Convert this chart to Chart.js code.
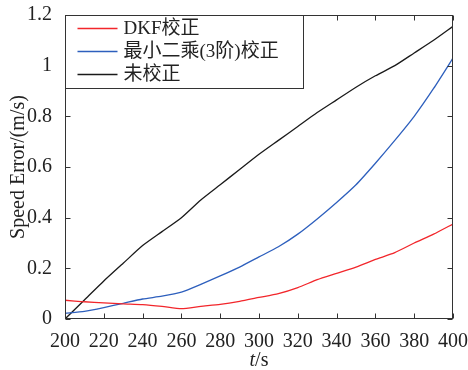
<!DOCTYPE html>
<html>
<head>
<meta charset="utf-8">
<script src="https://cdn.jsdelivr.net/npm/chart.js@4.4.1/dist/chart.umd.min.js"></script>
<style>
  html, body { margin: 0; padding: 0; background: #fff; }
</style>
</head>
<body>
<canvas id="speed" width="468" height="370"></canvas>
<script>
'use strict';

/*-- data --*/
var times = [200, 210, 220, 230, 240, 250, 260, 270, 280, 290, 300, 310, 320, 330, 340, 350, 360, 370, 380, 390, 400];
var dkfErr = [0.074, 0.068, 0.064, 0.060, 0.057, 0.050, 0.041, 0.050, 0.058, 0.070, 0.085, 0.100, 0.124, 0.155, 0.180, 0.205, 0.235, 0.262, 0.300, 0.335, 0.375];
var lsq3Err = [0.022, 0.030, 0.045, 0.062, 0.079, 0.090, 0.106, 0.137, 0.170, 0.205, 0.245, 0.285, 0.335, 0.395, 0.460, 0.530, 0.615, 0.705, 0.800, 0.910, 1.030];
var rawErr = [0.000, 0.075, 0.150, 0.220, 0.290, 0.345, 0.400, 0.470, 0.530, 0.590, 0.650, 0.705, 0.760, 0.815, 0.865, 0.915, 0.960, 1.000, 1.050, 1.100, 1.155];
var seriesNames = ['DKF校正', '最小二乘(3阶)校正', '未校正'];
var xTicks = [200, 220, 240, 260, 280, 300, 320, 340, 360, 380, 400];
var yTicks = [0, 0.2, 0.4, 0.6, 0.8, 1, 1.2];

var serif = '"Liberation Serif", "Noto Sans CJK SC", serif';

function toPoints(ys) {
  return times.map(function (t, i) { return { x: t, y: ys[i] }; });
}

/*-- frame with inward ticks on all four sides --*/
var framePlugin = {
  id: 'frame',
  afterDatasetsDraw: function (chart) {
    var ctx = chart.ctx, a = chart.chartArea;
    var sx = chart.scales.x, sy = chart.scales.y;
    var L = Math.round(a.left) + 0.5, R = Math.round(a.right) - 0.5;
    var T = Math.round(a.top) + 0.5, B = Math.round(a.bottom) - 0.5;
    ctx.save();
    ctx.strokeStyle = '#333';
    ctx.lineWidth = 1;
    ctx.beginPath();
    xTicks.forEach(function (v) {
      var px = Math.round(sx.getPixelForValue(v)) + 0.5;
      ctx.moveTo(px, B); ctx.lineTo(px, B - 5);
      ctx.moveTo(px, T); ctx.lineTo(px, T + 5);
    });
    yTicks.forEach(function (v) {
      var py = Math.round(sy.getPixelForValue(v)) + 0.5;
      ctx.moveTo(L, py); ctx.lineTo(L + 5, py);
      ctx.moveTo(R, py); ctx.lineTo(R - 5, py);
    });
    ctx.stroke();
    ctx.strokeRect(L, T, R - L, B - T);
    ctx.restore();
  },
  afterDraw: function (chart) {
    var ctx = chart.ctx, a = chart.chartArea;
    ctx.save();
    // legend box, top-left inside the plot
    var bx = Math.round(a.left) + 0.5, by = Math.round(a.top) + 0.5;
    var bw = 238, bh = 73;
    ctx.fillStyle = '#fff';
    ctx.fillRect(bx, by, bw, bh);
    ctx.strokeStyle = '#333';
    ctx.lineWidth = 1;
    ctx.strokeRect(bx, by, bw, bh);
    ctx.font = '19px ' + serif;
    ctx.textBaseline = 'middle';
    ctx.textAlign = 'left';
    chart.data.datasets.forEach(function (ds, i) {
      var y = by + 13 + i * 23;
      ctx.strokeStyle = ds.borderColor;
      ctx.lineWidth = 1.3;
      ctx.beginPath();
      ctx.moveTo(bx + 12, y); ctx.lineTo(bx + 52, y);
      ctx.stroke();
      ctx.fillStyle = '#222';
      ctx.fillText(ds.label, bx + 58, y + 1);
    });
    // x axis title: italic t + /s
    ctx.font = 'italic 20px ' + serif;
    var w1 = ctx.measureText('t').width;
    ctx.font = '20px ' + serif;
    var w2 = ctx.measureText('/s').width;
    var cx = (a.left + a.right) / 2 - (w1 + w2) / 2;
    ctx.textBaseline = 'alphabetic';
    ctx.fillStyle = '#222';
    ctx.font = 'italic 20px ' + serif;
    ctx.fillText('t', cx, 366);
    ctx.font = '20px ' + serif;
    ctx.fillText('/s', cx + w1, 366);
    ctx.restore();
  }
};

var chart = new Chart(document.getElementById('speed'), {
  type: 'line',
  data: {
    datasets: [
      { label: seriesNames[0], data: toPoints(dkfErr), borderColor: '#f2262b' },
      { label: seriesNames[1], data: toPoints(lsq3Err), borderColor: '#2d5fbd' },
      { label: seriesNames[2], data: toPoints(rawErr), borderColor: '#1a1a1a' }
    ]
  },
  options: {
    responsive: false,
    animation: false,
    layout: { padding: { top: 15, right: 15, left: 0, bottom: 0 } },
    elements: {
      line: { borderWidth: 1.3, tension: 0.2, fill: false },
      point: { radius: 0 }
    },
    plugins: {
      legend: { display: false },
      tooltip: { enabled: false }
    },
    scales: {
      x: {
        type: 'linear',
        min: 200,
        max: 400,
        grid: { display: false },
        border: { display: false },
        afterBuildTicks: function (s) {
          s.ticks = xTicks.map(function (v) { return { value: v }; });
        },
        ticks: {
          color: '#222',
          padding: 3,
          maxRotation: 0,
          font: { family: serif, size: 20 }
        },
        afterFit: function (s) {
          s.height = 51;
          s.paddingLeft = 0;
          s.paddingRight = 0;
        }
      },
      y: {
        min: 0,
        max: 1.2,
        grid: { display: false },
        border: { display: false },
        afterBuildTicks: function (s) {
          s.ticks = yTicks.map(function (v) { return { value: v }; });
        },
        ticks: {
          color: '#222',
          padding: 5,
          font: { family: serif, size: 20 },
          callback: function (v) { return String(+v.toFixed(1)); }
        },
        title: {
          display: true,
          text: 'Speed Error/(m/s)',
          color: '#222',
          padding: { top: 7, bottom: 0 },
          font: { family: serif, size: 20 }
        },
        afterFit: function (s) {
          s.width = 65;
          s.paddingTop = 0;
          s.paddingBottom = 0;
        }
      }
    }
  },
  plugins: [framePlugin]
});
</script>
</body>
</html>
